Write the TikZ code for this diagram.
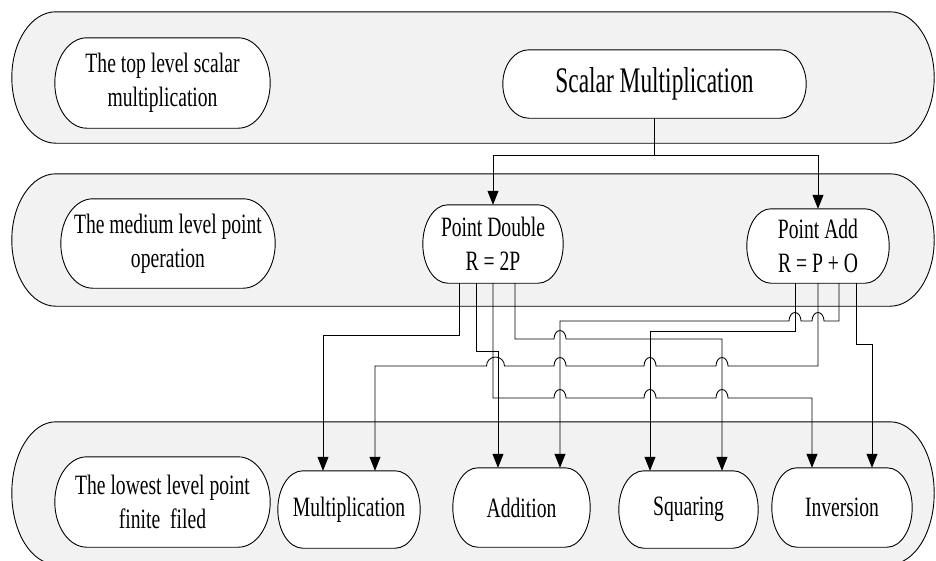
\documentclass[tikz,border=0pt]{standalone}
\usepackage{fontspec}
\setmainfont[FakeStretch=0.7]{Liberation Serif}
\newfontfamily\titlefont[FakeStretch=0.65]{Liberation Serif}
\usetikzlibrary{arrows.meta,calc}
\pgfdeclarelayer{shells}
\pgfdeclarelayer{boxes}
\pgfsetlayers{shells,boxes,main}
\definecolor{bandgray}{HTML}{F2F2F2}

\tikzset{
  link/.style={line width=0.85pt, draw=black},
  arrowed/.style={link, -{Triangle[length=14pt,width=11pt]}},
  txt/.style={draw=none, inner sep=0pt, align=center, font=\fontsize{28}{34}\selectfont},
  lvl/.style={draw=none, inner sep=0pt},
  shellline/.style={draw=black, line width=0.9pt, fill=bandgray},
  boxline/.style={draw=black, line width=0.9pt, fill=white},
}

% capsule outline with elliptical ends around a node: #1 style, #2 node, #3 end radius
\newcommand\capsule[3]{%
  \path[#1] let \p1=(#2.north west), \p2=(#2.south east), \n1={(\y1-\y2)/2} in
    (\x1+#3pt,\y1) -- (\x2-#3pt,\y1)
    arc[start angle=90, end angle=-90, x radius=#3pt, y radius={\n1*1pt}]
    -- (\x1+#3pt,\y2)
    arc[start angle=270, end angle=90, x radius=#3pt, y radius={\n1*1pt}]
    -- cycle;}

\begin{document}
\begin{tikzpicture}[x=1pt,y=-1pt]
\useasboundingbox (0,0) rectangle (936,560);

% the three levels
\node[lvl, minimum width=922pt, minimum height=131pt] (band1) at (473,77.5) {};
\node[lvl, minimum width=922pt, minimum height=132pt] (band2) at (473,240) {};
\node[lvl, minimum width=922pt, minimum height=142pt] (band3) at (473,493) {};

% level titles and operations
\node[txt, minimum width=215pt, minimum height=90pt] (toplbl) at (162.5,83) {The top level scalar\\multiplication};
\node[txt, font=\titlefont\fontsize{36}{42}\selectfont, minimum width=303pt, minimum height=68pt] (sm) at (654.5,84) {Scalar Multiplication};
\node[txt, minimum width=214pt, minimum height=89pt] (midlbl) at (168,243.5) {The medium level point\\operation};
\node[txt, minimum width=140pt, minimum height=78pt] (pd) at (493,244) {Point Double\\R = 2P};
\node[txt, minimum width=142pt, minimum height=74pt] (pa) at (818,246) {Point Add\\R = P + O};
\node[txt, minimum width=215pt, minimum height=90pt] (lowlbl) at (162.5,502) {The lowest level point\\finite\ \ filed};
\node[txt, minimum width=142pt, minimum height=77pt] (mul) at (349,509.5) {Multiplication};
\node[txt, minimum width=137pt, minimum height=79pt] (add) at (521.5,507.5) {Addition};
\node[txt, minimum width=139pt, minimum height=77pt] (sq) at (688.5,509.5) {Squaring};
\node[txt, minimum width=140pt, minimum height=79pt] (inv) at (842,507.5) {Inversion};

\begin{pgfonlayer}{shells}
  \capsule{shellline}{band1}{44}
  \capsule{shellline}{band2}{44}
  \capsule{shellline}{band3}{44}
\end{pgfonlayer}
\begin{pgfonlayer}{boxes}
  \capsule{boxline}{toplbl}{32}
  \capsule{boxline}{sm}{26}
  \capsule{boxline}{midlbl}{32}
  \capsule{boxline}{pd}{25}
  \capsule{boxline}{pa}{24}
  \capsule{boxline}{lowlbl}{32}
  \capsule{boxline}{mul}{25}
  \capsule{boxline}{add}{25}
  \capsule{boxline}{sq}{25}
  \capsule{boxline}{inv}{25}
\end{pgfonlayer}

% ports on the point operations
\coordinate (pdA) at ($(pd.south)+(-34,0)$);
\coordinate (pdB) at ($(pd.south)+(-17,0)$);
\coordinate (pdC) at (pd.south);
\coordinate (pdD) at ($(pd.south)+(22,0)$);
\coordinate (paA) at ($(pa.south)+(-23,0)$);
\coordinate (paB) at (pa.south);
\coordinate (paC) at ($(pa.south)+(21,0)$);
\coordinate (paD) at ($(pa.south)+(38,0)$);

% ports on the field operations
\coordinate (mulL) at ($(mul.north)+(-26,0)$);
\coordinate (mulR) at ($(mul.north)+(26,0)$);
\coordinate (addL) at ($(add.north)+(-23.5,0)$);
\coordinate (addR) at ($(add.north)+(38.5,0)$);
\coordinate (sqL) at ($(sq.north)+(-38.5,0)$);
\coordinate (sqR) at ($(sq.north)+(33.5,0)$);
\coordinate (invL) at ($(inv.north)+(-30,0)$);
\coordinate (invR) at ($(inv.north)+(30,0)$);

% routing rows
\coordinate (rowE) at (0,321);
\coordinate (rowF) at (0,331);
\coordinate (rowA) at (0,335);
\coordinate (rowD) at (0,339);
\coordinate (rowH) at (0,344);
\coordinate (rowB) at (0,351);
\coordinate (rowG) at (0,366);
\coordinate (rowC) at (0,398);

% scalar multiplication calls both point operations
\coordinate (split) at ($(sm.south)+(0,37)$);
\draw[link] (sm.south) -- (split);
\draw[arrowed] (split) -| (pd.north);
\draw[arrowed] (split) -| (pa.north);

% point double
\draw[arrowed] (pdA) -- (pdA |- rowA) -| (mulL);
\draw[arrowed] (pdB) -- (pdB |- rowB) -| (addL);
\draw[arrowed] (pdC) -- (pdC |- rowC)
  -- ($(addR |- rowC)+(-6,0)$) arc[start angle=180, end angle=0, x radius=6pt, y radius=8.5pt]
  -- ($(sqL |- rowC)+(-6,0)$) arc[start angle=180, end angle=0, x radius=6pt, y radius=8.5pt]
  -- ($(sqR |- rowC)+(-6,0)$) arc[start angle=180, end angle=0, x radius=6pt, y radius=8.5pt]
  -- (invL |- rowC) -- (invL);
\draw[arrowed] (pdD) -- (pdD |- rowD)
  -- ($(addR |- rowD)+(-6,0)$) arc[start angle=180, end angle=0, x radius=6pt, y radius=8.5pt]
  -- (sqR |- rowD) -- (sqR);

% point add
\draw[arrowed] (paC) -- (paC |- rowE)
  -- ($(paB |- rowE)+(6,0)$) arc[start angle=0, end angle=180, x radius=6pt, y radius=8.5pt]
  -- ($(paA |- rowE)+(6,0)$) arc[start angle=0, end angle=180, x radius=6pt, y radius=8.5pt]
  -- (addR |- rowE) -- (addR);
\draw[arrowed] (paA) -- (paA |- rowF) -| (sqL);
\draw[arrowed] (paB) -- (paB |- rowG)
  -- ($(sqR |- rowG)+(6,0)$) arc[start angle=0, end angle=180, x radius=6pt, y radius=8.5pt]
  -- ($(sqL |- rowG)+(6,0)$) arc[start angle=0, end angle=180, x radius=6pt, y radius=8.5pt]
  -- ($(addR |- rowG)+(6,0)$) arc[start angle=0, end angle=180, x radius=6pt, y radius=8.5pt]
  -- ($(addL |- rowG)+(6.5,0)$) arc[start angle=0, end angle=180, x radius=9pt, y radius=9pt]
  -- (mulR |- rowG) -- (mulR);
\draw[arrowed] (paD) -- (paD |- rowH) -| (invR);
\end{tikzpicture}
\end{document}
